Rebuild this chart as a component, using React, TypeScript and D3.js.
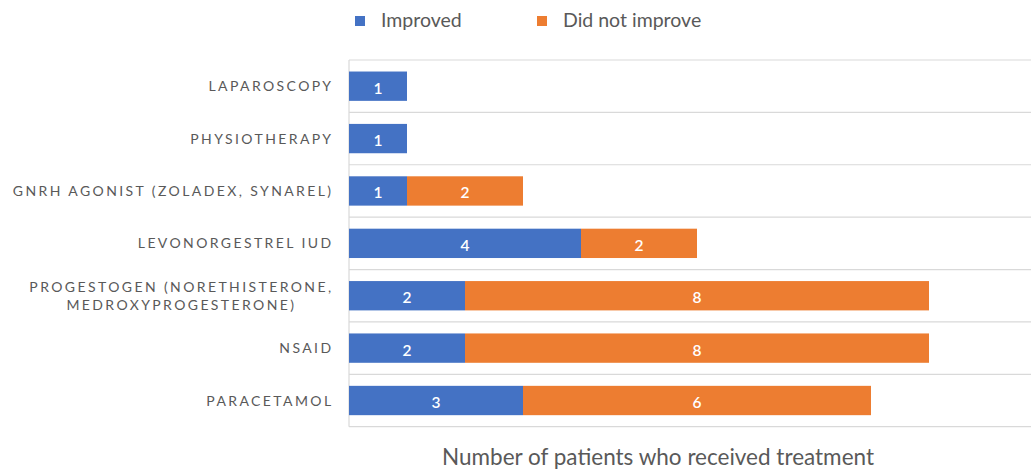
import React, { useRef, useEffect } from 'react';
import * as d3 from 'd3';

const categories = [
  'LAPAROSCOPY',
  'PHYSIOTHERAPY',
  'GNRH AGONIST (ZOLADEX, SYNAREL)',
  'LEVONORGESTREL IUD',
  'PROGESTOGEN (NORETHISTERONE,|MEDROXYPROGESTERONE)',
  'NSAID',
  'PARACETAMOL',
];
const improved = [1, 1, 1, 4, 2, 2, 3];
const notImproved = [0, 0, 2, 2, 8, 8, 6];
const seriesNames = ['Improved', 'Did not improve'];
const colors = ['#4472C4', '#ED7D31'];

const App = () => {
  const svgRef = useRef<SVGSVGElement>(null);

  useEffect(() => {
    const svg = d3.select(svgRef.current);
    svg.selectAll('*').remove();

    const width = 1031;
    const height = 471;
    const margin = { top: 60, right: 0, bottom: 45, left: 349 };
    const font = 'Lato, "Open Sans", sans-serif';
    const gray = '#595959';

    svg.attr('width', width).attr('height', height);

    const rows = categories.map((c, i) => ({ cat: c, vals: [improved[i], notImproved[i]] }));

    const x = d3.scaleLinear().domain([0, 12]).range([margin.left, margin.left + 58 * 12]);
    const y = d3.scaleBand()
      .domain(categories)
      .range([margin.top, height - margin.bottom + 0.7])
      .paddingInner(0.44)
      .paddingOuter(0.22);

    // gridlines between categories
    const step = y.step();
    const edges = d3.range(categories.length + 1).map(i => margin.top + i * step);
    svg.append('g')
      .selectAll('line')
      .data(edges)
      .join('line')
      .attr('x1', margin.left)
      .attr('x2', width)
      .attr('y1', d => d)
      .attr('y2', d => d)
      .attr('stroke', '#D9D9D9')
      .attr('stroke-width', 1.2);

    svg.append('line')
      .attr('x1', margin.left).attr('x2', margin.left)
      .attr('y1', edges[0]).attr('y2', edges[edges.length - 1])
      .attr('stroke', '#D9D9D9')
      .attr('stroke-width', 1.2);

    // stacked bars
    const stacked = d3.stack<any>()
      .keys([0, 1] as any)
      .value((d, k) => d.vals[k as any])(rows as any);

    stacked.forEach((layer, k) => {
      const g = svg.append('g');
      layer.forEach((seg: any) => {
        const v = seg[1] - seg[0];
        if (v <= 0) return;
        const cat = seg.data.cat;
        g.append('rect')
          .attr('x', x(seg[0]))
          .attr('y', y(cat)!)
          .attr('width', x(seg[1]) - x(seg[0]))
          .attr('height', y.bandwidth())
          .attr('fill', colors[k]);
        g.append('text')
          .attr('x', (x(seg[0]) + x(seg[1])) / 2)
          .attr('y', y(cat)! + y.bandwidth() / 2 + 7.5)
          .attr('text-anchor', 'middle')
          .attr('fill', '#fff')
          .attr('font-family', font)
          .attr('font-weight', 600)
          .attr('font-size', 15.5)
          .text(v);
      });
    });

    // category labels (multi-line ones are centred within a right-aligned block)
    const labels = svg.append('g')
      .attr('font-family', font)
      .attr('font-size', 14)
      .attr('fill', gray)
      .attr('letter-spacing', '2.4px');
    const labelRight = 333.5;
    categories.forEach(c => {
      const lines = c.split('|');
      const cy = y(c)! + y.bandwidth() / 2;
      const lh = 18.4;
      const texts = lines.map((ln, i) =>
        labels.append('text')
          .attr('y', cy + (i - (lines.length - 1) / 2) * lh)
          .attr('dy', '0.36em')
          .text(ln)
      );
      if (lines.length === 1) {
        texts[0].attr('x', labelRight).attr('text-anchor', 'end');
      } else {
        const maxW = d3.max(texts, t => (t.node() as SVGTextElement).getComputedTextLength()) || 0;
        texts.forEach(t => t.attr('x', labelRight - maxW / 2).attr('text-anchor', 'middle'));
      }
    });

    // legend
    const legendX = [355, 537];
    const legend = svg.append('g').attr('font-family', font).attr('font-size', 19.5).attr('fill', gray);
    seriesNames.forEach((name, i) => {
      legend.append('rect')
        .attr('x', legendX[i]).attr('y', 16)
        .attr('width', 10).attr('height', 10)
        .attr('fill', colors[i]);
      legend.append('text')
        .attr('x', legendX[i] + 26)
        .attr('y', 26.5)
        .text(name);
    });

    // x axis title
    svg.append('text')
      .attr('x', 658)
      .attr('y', 465)
      .attr('text-anchor', 'middle')
      .attr('font-family', font)
      .attr('font-size', 22.5)
      .attr('fill', gray)
      .text('Number of patients who received treatment');
  }, []);

  return (
    <svg ref={svgRef} style={{ position: 'absolute', left: 0, top: 0 }}></svg>
  );
};

export default App;
